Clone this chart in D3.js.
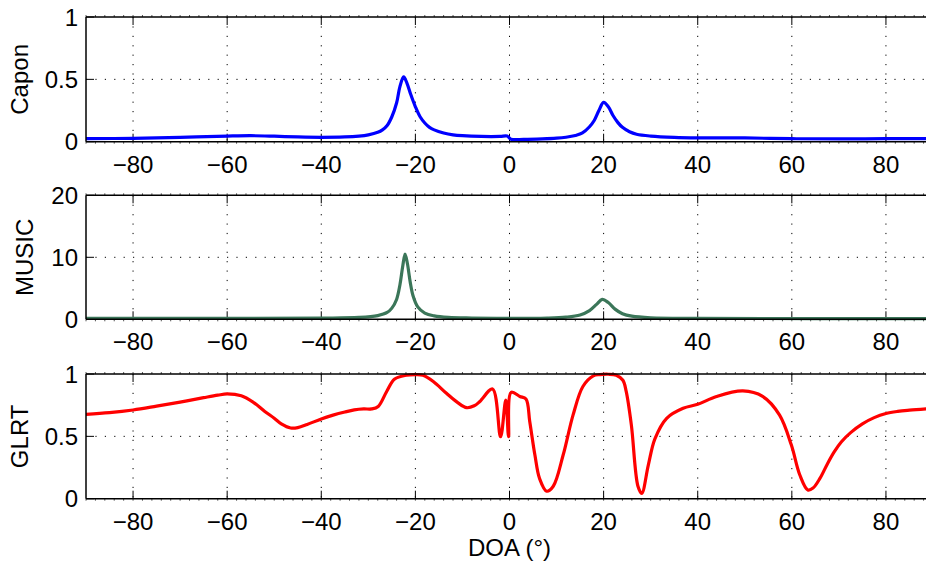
<!DOCTYPE html>
<html>
<head>
<meta charset="utf-8">
<script src="https://cdn.jsdelivr.net/npm/d3@7"></script>
<style>
  html, body { margin: 0; padding: 0; background: #fff; }
  svg { display: block; }
  text { font-family: "Liberation Sans", Arial, Helvetica, sans-serif; fill: #000; }
</style>
</head>
<body>
<svg id="chart" width="926" height="567"></svg>
<script>
// ---------------- data ----------------
const xTicks = [-80, -60, -40, -20, 0, 20, 40, 60, 80];
const xLabel = "DOA (°)";

const caponDoa = [-90, -80, -70, -60, -55, -50, -45, -40, -35, -32, -30, -28, -27, -26, -25, -24, -23.3, -22.5, -21.8, -21, -20, -19, -18, -17, -16, -14, -12, -10, -6, -2, -0.5, 0.3, 3, 7, 10, 12, 14, 15.5, 17, 18, 19, 20, 21, 22, 23, 24, 25.5, 27, 30, 35, 40, 50, 60, 70, 80, 90];
const caponVal = [0.025, 0.027, 0.035, 0.045, 0.048, 0.044, 0.038, 0.035, 0.038, 0.045, 0.055, 0.075, 0.095, 0.13, 0.2, 0.31, 0.44, 0.52, 0.47, 0.38, 0.28, 0.2, 0.15, 0.115, 0.095, 0.07, 0.055, 0.048, 0.042, 0.042, 0.045, 0.02, 0.018, 0.022, 0.028, 0.036, 0.05, 0.07, 0.12, 0.17, 0.25, 0.315, 0.28, 0.21, 0.155, 0.115, 0.08, 0.06, 0.045, 0.034, 0.03, 0.03, 0.024, 0.022, 0.024, 0.024];
const caponTicks = [0, 0.5, 1];

const musicDoa = [-90, -60, -40, -32, -28, -26, -25, -24, -23.3, -22.7, -22.2, -21.7, -21.1, -20.5, -19.5, -18, -16, -13, -8, 0, 8, 12, 15, 17, 18.5, 19.7, 21, 22.5, 24, 26, 30, 40, 90];
const musicVal = [0.15, 0.15, 0.2, 0.3, 0.6, 1.1, 1.8, 3.2, 5.5, 8.5, 10.5, 9.0, 6.0, 3.8, 2.0, 1.0, 0.55, 0.3, 0.2, 0.15, 0.2, 0.35, 0.7, 1.4, 2.4, 3.2, 2.7, 1.6, 0.9, 0.5, 0.25, 0.15, 0.12];
const musicTicks = [0, 10, 20];

const glrtDoa = [-90, -85, -80, -75, -70, -65, -62, -60, -57, -54.5, -52, -50, -48.5, -46.5, -45, -43, -40, -37.5, -35, -33, -31, -29.3, -27.9, -26.1, -24.4, -21.9, -20, -18.4, -16.2, -13.4, -11, -9.1, -7.5, -6.3, -3.6, -1.9, -0.8, -0.2, 0.35, 2.2, 3.5, 4.3, 5.4, 6.4, 7.9, 9.3, 11.4, 13.5, 15.6, 17.8, 19.2, 21, 22.7, 24.1, 24.8, 25.9, 27.3, 28.1, 29.5, 30.9, 33.4, 36.9, 40, 44, 49.6, 53.8, 57.4, 59.9, 61.7, 63.4, 64.5, 66, 67.5, 69, 70.5, 72.5, 75, 77.5, 80, 82.5, 85, 90];
const glrtVal = [0.677, 0.69, 0.711, 0.742, 0.775, 0.81, 0.83, 0.84, 0.825, 0.775, 0.7, 0.645, 0.6, 0.567, 0.57, 0.595, 0.64, 0.67, 0.695, 0.712, 0.72, 0.72, 0.74, 0.86, 0.96, 0.99, 0.995, 0.99, 0.94, 0.845, 0.77, 0.73, 0.745, 0.78, 0.88, 0.497, 0.79, 0.497, 0.853, 0.82, 0.8, 0.62, 0.35, 0.16, 0.06, 0.1, 0.35, 0.67, 0.9, 0.985, 0.995, 0.998, 0.99, 0.95, 0.86, 0.59, 0.1, 0.043, 0.27, 0.48, 0.645, 0.725, 0.757, 0.82, 0.864, 0.82, 0.67, 0.43, 0.19, 0.07, 0.085, 0.165, 0.275, 0.375, 0.455, 0.53, 0.6, 0.65, 0.683, 0.7, 0.71, 0.725];
const glrtTicks = [0, 0.5, 1];

// ---------------- layout ----------------
const svg = d3.select("#chart");
const x = d3.scaleLinear().domain([-90, 90]).range([86, 933]);
const minorTicks = d3.range(-90, 91, 2);

const panels = [
  { name: "Capon", doa: caponDoa, val: caponVal, ticks: caponTicks, tickFmt: d => d === 0.5 ? "0.5" : String(d), domain: [0, 1], top: 17, bottom: 141.7, color: "#0000ff", labelX: 20, grid: [0.5] },
  { name: "MUSIC", doa: musicDoa, val: musicVal, ticks: musicTicks, tickFmt: d => String(d), domain: [0, 20], top: 195.3, bottom: 319.3, color: "#3b7659", labelX: 25, grid: [10] },
  { name: "GLRT", doa: glrtDoa, val: glrtVal, ticks: glrtTicks, tickFmt: d => d === 0.5 ? "0.5" : String(d), domain: [0, 1], top: 374, bottom: 498.7, color: "#ff0000", labelX: 20, grid: [0.5] }
];

const fmtX = d => d < 0 ? "\u2212" + Math.abs(d) : String(d);

panels.forEach((p, i) => {
  const y = d3.scaleLinear().domain(p.domain).range([p.bottom, p.top]);
  const g = svg.append("g");
  const clipId = "clip" + i;
  svg.append("clipPath").attr("id", clipId)
    .append("rect").attr("x", x(-90)).attr("y", p.top - 3).attr("width", x(90) - x(-90)).attr("height", p.bottom - p.top + 6);

  // grid
  g.selectAll(".vg").data(xTicks).join("line")
    .attr("x1", d => x(d)).attr("x2", d => x(d))
    .attr("y1", p.top).attr("y2", p.bottom)
    .attr("stroke", "#000").attr("stroke-width", 1).attr("stroke-dasharray", "1.2,8.2");
  g.selectAll(".hg").data(p.grid).join("line")
    .attr("x1", x(-90)).attr("x2", x(90))
    .attr("y1", d => y(d)).attr("y2", d => y(d))
    .attr("stroke", "#000").attr("stroke-width", 1).attr("stroke-dasharray", "1.2,8.2");

  // minor ticks (outward)
  g.selectAll(".mt").data(minorTicks).join("line")
    .attr("x1", d => x(d)).attr("x2", d => x(d))
    .attr("y1", p.top - 2).attr("y2", p.top)
    .attr("stroke", "#555").attr("stroke-width", 1);
  g.selectAll(".mb").data(minorTicks).join("line")
    .attr("x1", d => x(d)).attr("x2", d => x(d))
    .attr("y1", p.bottom).attr("y2", p.bottom + 2)
    .attr("stroke", "#555").attr("stroke-width", 1);

  // major x ticks (inward, top and bottom)
  g.selectAll(".xt").data(xTicks).join("line")
    .attr("x1", d => x(d)).attr("x2", d => x(d))
    .attr("y1", p.bottom).attr("y2", p.bottom - 8)
    .attr("stroke", "#000").attr("stroke-width", 1);
  g.selectAll(".xtt").data(xTicks).join("line")
    .attr("x1", d => x(d)).attr("x2", d => x(d))
    .attr("y1", p.top).attr("y2", p.top + 8)
    .attr("stroke", "#000").attr("stroke-width", 1);
  // major y ticks (inward)
  g.selectAll(".yt").data(p.ticks).join("line")
    .attr("x1", x(-90)).attr("x2", x(-90) + 8)
    .attr("y1", d => y(d)).attr("y2", d => y(d))
    .attr("stroke", "#000").attr("stroke-width", 1);

  // data line
  const line = d3.line().x(d => x(d[0])).y(d => y(d[1])).curve(d3.curveCatmullRom.alpha(0.5));
  g.append("path")
    .datum(p.doa.map((d, k) => [d, p.val[k]]))
    .attr("clip-path", `url(#${clipId})`)
    .attr("d", line)
    .attr("fill", "none").attr("stroke", p.color).attr("stroke-width", 3.2)
    .attr("stroke-linejoin", "round");

  // borders
  g.append("line").attr("x1", x(-90)).attr("x2", x(90)).attr("y1", p.top).attr("y2", p.top)
    .attr("stroke", "#000").attr("stroke-width", 1.5);
  g.append("line").attr("x1", x(-90)).attr("x2", x(90)).attr("y1", p.bottom).attr("y2", p.bottom)
    .attr("stroke", "#000").attr("stroke-width", 1.5);
  g.append("line").attr("x1", x(-90)).attr("x2", x(-90)).attr("y1", p.top).attr("y2", p.bottom)
    .attr("stroke", "#000").attr("stroke-width", 1.5);
  g.append("line").attr("x1", x(90)).attr("x2", x(90)).attr("y1", p.top).attr("y2", p.bottom)
    .attr("stroke", "#000").attr("stroke-width", 1.5);

  // x tick labels
  g.selectAll(".xl").data(xTicks).join("text")
    .attr("x", d => x(d)).attr("y", p.bottom + 31)
    .attr("text-anchor", "middle").attr("font-size", 24)
    .text(fmtX);
  // y tick labels
  g.selectAll(".yl").data(p.ticks).join("text")
    .attr("x", 78).attr("y", d => y(d) + 8.5)
    .attr("text-anchor", "end").attr("font-size", 24)
    .text(p.tickFmt);
  // y label
  g.append("text")
    .attr("transform", `translate(${p.labelX + 8},${(p.top + p.bottom) / 2}) rotate(-90)`)
    .attr("text-anchor", "middle").attr("font-size", 24)
    .text(p.name);
});

svg.append("text")
  .attr("x", x(0)).attr("y", 556)
  .attr("text-anchor", "middle").attr("font-size", 24)
  .text(xLabel);
</script>
</body>
</html>
